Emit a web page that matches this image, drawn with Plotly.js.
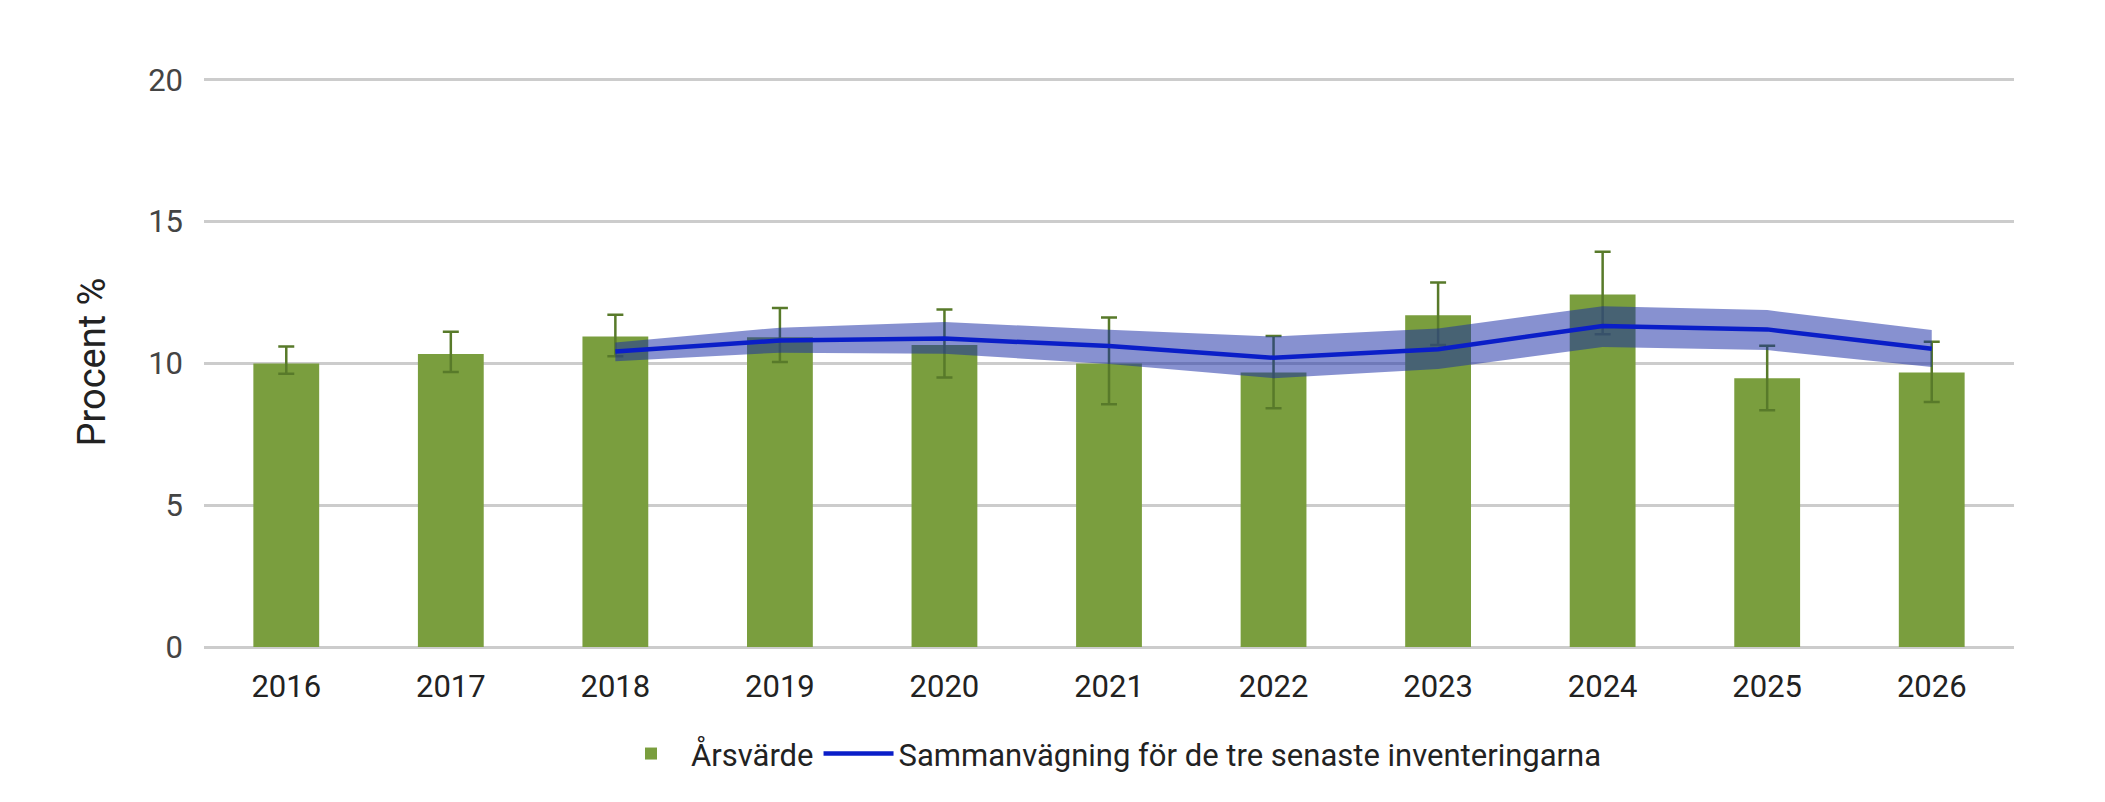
<!DOCTYPE html>
<html><head><meta charset="utf-8">
<script src="https://cdn.plot.ly/plotly-3.0.1.min.js"></script>
<style>body{margin:0;background:#fff}</style></head>
<body><div id="chart" style="width:2105px;height:802px"></div>
<script>
const years = ['2016','2017','2018','2019','2020','2021','2022','2023','2024','2025','2026'];
const annualValues = [10.0, 10.33, 10.95, 10.92, 10.65, 10.0, 9.68, 11.7, 12.43, 9.48, 9.68];
const errUpper = [10.6, 11.12, 11.72, 11.95, 11.9, 11.62, 10.97, 12.85, 13.94, 10.62, 10.76];
const errLower = [9.64, 9.7, 10.25, 10.05, 9.5, 8.56, 8.42, 10.65, 11.03, 8.35, 8.64];
const comboYears = ['2018','2019','2020','2021','2022','2023','2024','2025','2026'];
const comboValues = [10.42, 10.81, 10.88, 10.61, 10.2, 10.5, 11.32, 11.2, 10.52];
const comboUpper = [10.74, 11.26, 11.46, 11.19, 10.95, 11.23, 12.02, 11.88, 11.18];
const comboLower = [10.08, 10.38, 10.34, 9.98, 9.48, 9.8, 10.58, 10.47, 9.87];

const bars = {
  type:'bar', x:years, y:annualValues, name:'Årsvärde', width:0.4,
  marker:{color:'#7a9e3e'},
  error_y:{type:'data', symmetric:false,
    array:errUpper.map((u,i)=>u-annualValues[i]),
    arrayminus:annualValues.map((v,i)=>v-errLower[i]),
    color:'#587a2a', thickness:2.5, width:8}
};
const band = {
  type:'scatter', mode:'lines', x:comboYears.concat(comboYears.slice().reverse()),
  y:comboUpper.concat(comboLower.slice().reverse()), fill:'toself',
  fillcolor:'rgba(25,45,165,0.52)', line:{width:0}, showlegend:false, hoverinfo:'skip'
};
const line = {
  type:'scatter', mode:'lines', x:comboYears, y:comboValues,
  name:'Sammanvägning för de tre senaste inventeringarna',
  line:{color:'#0a1ec8', width:4.5}
};
const layout = {
  width:2105, height:802, paper_bgcolor:'#fff', plot_bgcolor:'#fff',
  margin:{l:204, r:91, t:77, b:155, autoexpand:false},
  font:{family:'Roboto, sans-serif', size:31, color:'#333'},
  xaxis:{type:'category', range:[-0.5,10.5], showgrid:false, zeroline:false,
    tickfont:{size:31, color:'#222'}, ticks:'', ticklabelstandoff:18},
  yaxis:{range:[0,20.1], tickvals:[0,5,10,15,20], gridcolor:'#cccccc', gridwidth:2.5,
    zeroline:true, zerolinecolor:'#cccccc', zerolinewidth:2.5, showline:false,
    tickfont:{size:31, color:'#444'}, ticklabelstandoff:20,
    title:{text:'Procent %', font:{size:38, color:'#222'}, standoff:30}},
  legend:{orientation:'h', x:0.5, xanchor:'center', yref:'container', y:0.06, yanchor:'middle',
    font:{size:31, color:'#222'}, itemwidth:70},
  bargap:0.6
};
Plotly.newPlot('chart',[bars, band, line], layout, {displayModeBar:false});
</script></body></html>
